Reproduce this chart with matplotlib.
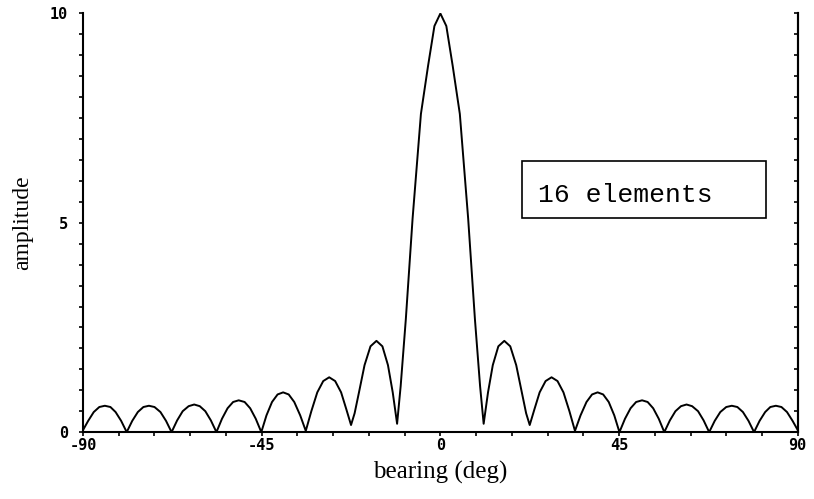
import matplotlib
matplotlib.use("Agg")
import matplotlib.pyplot as plt
from matplotlib.patches import Rectangle

# beam pattern (bearing in deg, amplitude)
bearing = [
    -90.0, -88.7, -87.3, -85.9, -84.5, -83.1, -81.8, -80.4,
    -79.0, -77.6, -76.2, -74.8, -73.4, -72.0, -70.5, -69.1,
    -67.7, -66.3, -64.9, -63.4, -62.0, -60.6, -59.2, -57.8,
    -56.4, -55.0, -53.6, -52.2, -50.8, -49.3, -47.9, -46.5,
    -45.1, -43.8, -42.4, -41.0, -39.6, -38.2, -36.8, -35.3,
    -33.9, -32.5, -31.0, -29.5, -28.0, -26.5, -25.0, -23.7,
    -22.5, -21.6, -20.5, -19.1, -17.6, -16.1, -14.6, -13.2, -12.0,
    -10.9, -10.0, -8.7, -7.0, -4.9, -3.1, -1.5,
    0.0,
    1.5, 3.1, 4.9, 7.0, 8.7, 10.0, 10.9,
    12.0, 13.2, 14.6, 16.1, 17.6, 19.1, 20.5, 21.6, 22.5,
    23.7, 25.0, 26.5, 28.0, 29.5, 31.0, 32.5, 33.9,
    35.3, 36.8, 38.2, 39.6, 41.0, 42.4, 43.8, 45.1,
    46.5, 47.9, 49.3, 50.8, 52.2, 53.6, 55.0, 56.4,
    57.8, 59.2, 60.6, 62.0, 63.4, 64.9, 66.3, 67.7,
    69.1, 70.5, 72.0, 73.4, 74.8, 76.2, 77.6, 79.0,
    80.4, 81.8, 83.1, 84.5, 85.9, 87.3, 88.7, 90.0,
]
amplitude = [
    0.05, 0.27, 0.48, 0.60, 0.63, 0.60, 0.48, 0.27,
    0.00, 0.27, 0.48, 0.60, 0.63, 0.60, 0.48, 0.27,
    0.00, 0.28, 0.50, 0.62, 0.66, 0.62, 0.50, 0.28,
    0.00, 0.32, 0.57, 0.72, 0.76, 0.72, 0.57, 0.32,
    0.00, 0.40, 0.72, 0.90, 0.95, 0.90, 0.72, 0.40,
    0.03, 0.50, 0.95, 1.22, 1.31, 1.22, 0.95, 0.55,
    0.17, 0.45, 0.95, 1.60, 2.05, 2.18, 2.05, 1.60, 0.95,
    0.20, 1.10, 2.70, 5.10, 7.60, 8.75, 9.70,
    10.0,
    9.70, 8.75, 7.60, 5.10, 2.70, 1.10, 0.20,
    0.95, 1.60, 2.05, 2.18, 2.05, 1.60, 0.95, 0.45, 0.17,
    0.55, 0.95, 1.22, 1.31, 1.22, 0.95, 0.50, 0.03,
    0.40, 0.72, 0.90, 0.95, 0.90, 0.72, 0.40, 0.00,
    0.32, 0.57, 0.72, 0.76, 0.72, 0.57, 0.32, 0.00,
    0.28, 0.50, 0.62, 0.66, 0.62, 0.50, 0.28, 0.00,
    0.27, 0.48, 0.60, 0.63, 0.60, 0.48, 0.27, 0.00,
    0.27, 0.48, 0.60, 0.63, 0.60, 0.48, 0.27, 0.05,
]

x_ticks = list(range(-90, 91, 9))
x_labels = {-90: "-90", -45: "-45", 0: "0", 45: "45", 90: "90"}
y_ticks = [i * 0.5 for i in range(21)]
y_labels = {0: "0", 5: "5", 10: "10"}
legend_text = "16 elements"

fig = plt.figure(figsize=(8.14, 4.99), dpi=100)
ax = fig.add_axes([0.102, 0.134, 0.878, 0.839])

ax.plot(bearing, amplitude, color="black", linewidth=1.4)

ax.set_xlim(-90, 90)
ax.set_ylim(0, 10)

for side in ("left", "right", "bottom"):
    ax.spines[side].set_linewidth(1.5)
ax.spines["top"].set_visible(False)

tick_font = dict(family="DejaVu Sans Mono", weight="bold", size=11)
ax.set_xticks(x_ticks)
ax.set_xticklabels([x_labels.get(t, "") for t in x_ticks], **tick_font)
ax.set_yticks(y_ticks)
ax.set_yticklabels([y_labels.get(t, "") if t == int(t) else "" for t in y_ticks],
                   **tick_font)
ax.tick_params(axis="x", direction="out", length=3, width=1.2, pad=1)
ax.tick_params(axis="y", direction="out", length=3, width=1.2, pad=8)

# right-hand ticks point back into the plot
ax2 = ax.secondary_yaxis("right")
ax2.set_yticks(y_ticks)
ax2.set_yticklabels([])
ax2.tick_params(direction="in", length=3, width=1.2)
ax2.spines["right"].set_linewidth(1.5)

ax.set_xlabel("bearing (deg)", family="Liberation Serif", size=18, labelpad=6)
ax.set_ylabel("amplitude", family="Liberation Serif", size=17, labelpad=12)

ax.add_patch(Rectangle((0.614, 0.512), 0.342, 0.135, transform=ax.transAxes,
                       fill=False, edgecolor="black", linewidth=1.2))
ax.text(0.636, 0.567, legend_text, transform=ax.transAxes,
        family="Liberation Mono", size=19, va="center", ha="left")

fig.savefig("out.png", dpi=100)
